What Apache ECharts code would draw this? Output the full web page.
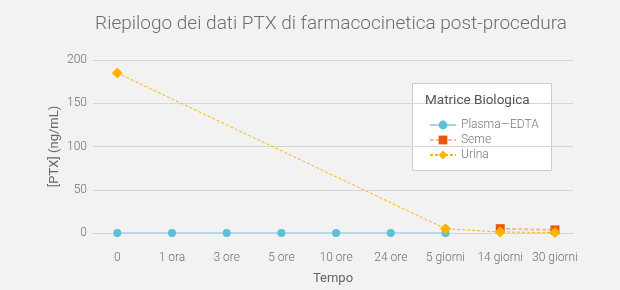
<!DOCTYPE html>
<html>
<head>
<meta charset="utf-8">
<script src="https://cdn.jsdelivr.net/npm/echarts@6/dist/echarts.min.js"></script>
<style>html,body{margin:0;padding:0;background:#f2f2f2;}#c{width:620px;height:290px;}</style>
</head>
<body>
<div id="c"></div>
<script>
const categories = ['0', '1 ora', '3 ore', '5 ore', '10 ore', '24 ore', '5 giorni', '14 giorni', '30 giorni'];
const plasmaValues = [0, 0, 0, 0, 0, 0, 0, null, null];
const semeValues = [null, null, null, null, null, null, null, 5, 3.5];
const urinaValues = [185, null, null, null, null, null, 5, 1.2, 0.5];
const yTicks = [0, 50, 100, 150, 200];

function pairs(vals) {
  const out = [];
  vals.forEach((v, i) => { if (v !== null) out.push([i, v]); });
  return out;
}
const FONT = 'Roboto';
const chart = echarts.init(document.getElementById('c'), null, {renderer: 'canvas'});
chart.setOption({
  backgroundColor: '#f2f2f2',
  animation: false,
  title: {
    text: 'Riepilogo dei dati PTX di farmacocinetica post-procedura',
    left: 326, top: 10, textAlign: 'center',
    textStyle: {fontFamily: FONT, fontSize: 19, fontWeight: 300, color: '#6e6e6e'}
  },
  grid: {left: 93, right: 47, top: 60, bottom: 57},
  xAxis: {
    type: 'value', min: -0.444, max: 8.33,
    name: 'Tempo', nameLocation: 'middle', nameGap: 39,
    nameTextStyle: {fontFamily: FONT, fontSize: 13, color: '#666'},
    axisLine: {show: true, lineStyle: {color: '#d6d6d6'}},
    axisTick: {show: false},
    splitLine: {show: false},
    axisLabel: {
      customValues: categories.map((c, i) => i),
      formatter: v => categories[Math.round(v)] ?? '',
      fontFamily: FONT, fontSize: 12, fontWeight: 300, color: '#6e6e6e', margin: 19
    }
  },
  yAxis: {
    type: 'value', min: yTicks[0], max: yTicks[yTicks.length - 1], interval: 50,
    name: '[PTX] (ng/mL)', nameLocation: 'middle', nameGap: 32, nameMoveOverlap: false,
    nameTextStyle: {fontFamily: FONT, fontSize: 13, color: '#666'},
    axisLine: {show: false}, axisTick: {show: false},
    splitLine: {lineStyle: {color: '#d6d6d6'}},
    axisLabel: {fontFamily: FONT, fontSize: 12, fontWeight: 300, color: '#6e6e6e', margin: 6}
  },
  legend: {
    orient: 'vertical', left: 424, top: 114, itemGap: 3,
    itemWidth: 26, itemHeight: 11,
    textStyle: {fontFamily: FONT, fontSize: 12, fontWeight: 300, color: '#777'},
    data: ['Plasma\u2014EDTA', 'Seme', 'Urina']
  },
  graphic: [
    {type: 'rect', left: 412, top: 83, shape: {width: 139, height: 87},
     style: {fill: '#ffffff', stroke: '#cccccc', lineWidth: 1}, z: 0, zlevel: 0},
    {type: 'text', left: 425, top: 94,
     style: {text: 'Matrice Biologica', fill: '#555', font: '13.5px Roboto'}, z: 10}
  ],
  series: [
    {name: 'Plasma\u2014EDTA', type: 'line', data: pairs(plasmaValues),
     symbol: 'circle', symbolSize: 8,
     itemStyle: {color: '#5bc0d8'},
     lineStyle: {color: '#9ed8e6', width: 1.5}, z: 3},
    {name: 'Seme', type: 'line', data: pairs(semeValues),
     symbol: 'rect', symbolSize: 9,
     itemStyle: {color: '#e8590c'},
     lineStyle: {color: '#f4a886', width: 2, type: [4, 2], opacity: 0.8}, z: 4},
    {name: 'Urina', type: 'line', data: pairs(urinaValues),
     symbol: 'diamond', symbolSize: 11,
     itemStyle: {color: '#ffb300'},
     lineStyle: {color: '#ffb300', width: 1, type: [3, 2]}, z: 5}
  ]
});
</script>
</body>
</html>
